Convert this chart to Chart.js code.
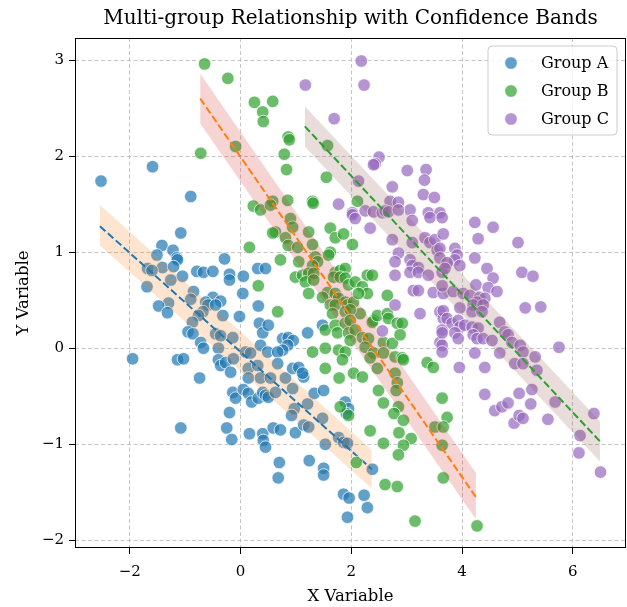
<!DOCTYPE html>
<html><head><meta charset="utf-8">
<script src="https://cdn.jsdelivr.net/npm/chart.js@4.4.1/dist/chart.umd.min.js"></script>
<style>html,body{margin:0;padding:0;background:#fff;}#wrap{width:627px;height:607px;position:relative;}</style>
</head><body><div id="wrap"><canvas id="c"></canvas></div>
<script>
const titleText = 'Multi-group Relationship with Confidence Bands';
const xLabel = 'X Variable';
const yLabel = 'Y Variable';
const groupNames = ['Group A', 'Group B', 'Group C'];

const groupAX = [-2.52,-1.59,-0.90,-1.08,-1.42,-1.22,-1.51,-1.15,-1.14,-1.41,-1.21,-1.68,-1.60,-0.29,0.31,0.45,-0.79,-0.67,-0.50,-0.20,-0.20,0.05,-1.05,-1.26,-1.69,-0.85,-0.90,0.04,-0.50,-0.63,-0.59,-0.36,-0.45,-1.30,-1.48,-1.32,0.32,-0.68,-0.76,-0.32,-0.02,-0.87,0.34,-0.95,-0.86,-0.45,-0.36,-0.14,0.40,-0.72,-0.67,-0.40,0.09,0.18,0.36,-1.95,-1.14,-1.03,-0.40,-0.36,-0.27,-0.13,0.14,0.31,-0.18,-0.74,0.14,0.36,-0.14,-0.09,0.05,0.14,0.20,0.32,-0.20,-1.08,-0.25,-0.16,0.16,0.40,0.41,0.45,0.54,0.81,1.14,0.40,0.45,0.50,0.63,0.94,1.33,1.50,0.97,0.92,1.21,1.89,1.95,1.91,1.48,0.59,0.72,0.99,1.14,1.23,1.53,1.77,1.86,1.93,0.70,0.68,1.24,1.50,1.50,2.38,1.86,1.96,2.23,2.29,1.93,0.50,0.76,0.86,0.95,0.85,0.76,1.21,1.48,0.49,0.67,0.67,0.94,1.05,1.12];
const groupAY = [1.74,1.89,1.58,1.20,1.07,1.02,0.97,0.94,0.92,0.84,0.85,0.83,0.81,0.93,0.83,0.83,0.80,0.79,0.80,0.77,0.71,0.75,0.75,0.71,0.64,0.59,0.51,0.57,0.53,0.48,0.45,0.49,0.45,0.47,0.44,0.37,0.44,0.38,0.34,0.34,0.33,0.27,0.26,0.17,0.15,0.15,0.13,0.11,0.16,0.06,0.00,0.00,-0.04,-0.05,0.03,-0.11,-0.12,-0.11,-0.12,-0.18,-0.15,-0.11,-0.21,-0.18,-0.25,-0.31,-0.31,-0.31,-0.46,-0.52,-0.43,-0.47,-0.56,-0.52,-0.67,-0.83,-0.83,-0.95,-0.89,-0.89,-0.96,-1.03,-0.31,-0.31,-0.30,-0.46,-0.49,-0.51,-0.46,-0.42,-0.47,-0.44,-0.63,-0.70,-0.58,-0.56,-0.63,-0.68,-0.73,-0.83,-0.85,-0.88,-0.80,-0.82,-1.00,-0.93,-0.98,-0.99,-1.19,-1.35,-1.17,-1.25,-1.32,-1.26,-1.52,-1.56,-1.53,-1.66,-1.76,0.24,0.10,0.11,0.08,0.03,-0.02,0.16,0.24,-0.04,-0.04,-0.16,-0.21,-0.20,-0.26];

const groupBX = [-0.65,-0.23,0.25,0.58,0.40,0.41,-0.09,-0.72,0.23,0.36,0.86,0.88,1.57,0.79,0.83,1.55,0.85,1.30,1.31,2.11,0.58,0.54,0.16,0.32,0.90,0.94,0.63,0.58,0.81,0.86,1.03,1.23,1.30,1.62,1.71,1.86,2.02,1.05,0.72,1.35,1.39,1.30,1.62,1.59,0.99,1.12,1.23,1.32,1.17,1.32,1.71,1.80,1.89,1.68,1.80,1.89,1.95,2.07,2.29,2.38,2.20,1.23,1.57,1.71,1.77,1.48,1.62,1.71,1.89,1.93,2.04,2.29,2.13,2.65,0.67,1.66,1.89,2.16,1.98,2.40,2.38,2.47,2.65,2.67,2.83,2.92,1.53,1.71,1.89,1.98,1.75,1.95,2.07,2.20,2.31,2.58,2.74,2.88,1.98,1.30,1.53,1.77,1.89,2.25,2.40,2.34,2.58,2.79,2.92,2.94,1.53,1.84,2.04,2.20,2.47,2.79,3.37,3.48,1.78,1.80,1.95,2.09,2.49,2.58,2.34,2.58,2.61,2.83,3.15,2.83,2.81,2.85,2.77,2.94,2.86,3.08,2.94,2.85,3.51,3.64,3.64,3.66,3.73,3.66,4.27];
const groupBY = [2.96,2.81,2.56,2.57,2.46,2.36,2.10,2.03,1.48,1.44,2.20,2.17,2.11,2.02,1.86,1.78,1.54,1.53,1.51,1.53,1.53,1.49,1.05,0.65,1.35,1.26,1.21,1.20,1.15,1.07,1.05,1.21,1.08,1.25,1.15,1.19,1.08,0.90,0.92,0.95,0.90,0.86,1.00,0.97,0.74,0.76,0.78,0.78,0.69,0.71,0.79,0.81,0.83,0.74,0.74,0.73,0.66,0.69,0.76,0.76,0.64,0.57,0.58,0.57,0.52,0.53,0.45,0.45,0.48,0.45,0.48,0.57,0.57,0.55,0.38,0.36,0.38,0.36,0.40,0.29,0.27,0.34,0.36,0.31,0.26,0.26,0.19,0.24,0.26,0.29,0.16,0.16,0.19,0.11,0.10,0.06,0.05,0.14,0.08,-0.04,0.00,-0.02,-0.04,0.01,-0.05,-0.10,-0.05,-0.09,-0.10,-0.12,-0.21,-0.12,-0.26,-0.30,-0.21,-0.26,-0.15,-0.20,-0.31,-0.61,-0.70,-1.19,-0.44,-0.57,-0.86,-0.99,-1.42,-1.44,-1.80,-0.36,-0.44,-0.61,-0.68,-0.75,-0.88,-0.94,-1.01,-1.11,-0.82,-0.52,-1.01,-1.35,-0.72,-0.82,-1.85];

const groupCX = [1.17,2.18,2.23,1.69,2.50,2.43,2.40,2.13,3.01,3.35,3.32,2.74,3.30,3.50,1.77,2.70,2.85,2.02,2.25,2.40,2.56,2.61,3.06,3.39,3.60,2.02,2.07,2.67,2.85,3.10,3.42,3.64,2.34,2.74,2.85,2.79,2.79,3.10,3.33,3.42,3.51,3.55,3.60,3.60,3.06,3.10,3.21,3.06,3.21,3.39,3.64,3.12,3.21,3.48,3.66,2.79,3.24,3.60,3.66,2.56,3.64,3.60,4.23,4.56,4.29,5.01,3.66,3.87,3.91,3.87,3.96,3.73,3.69,4.23,4.45,4.56,5.08,5.28,4.25,3.64,3.84,4.02,4.14,4.47,4.63,4.32,4.41,4.27,4.20,4.38,4.18,4.36,3.96,3.66,5.14,5.42,3.73,3.82,3.93,3.96,4.05,4.18,4.29,4.68,4.77,4.83,3.64,3.87,3.93,4.20,4.27,4.38,4.54,4.90,5.05,5.10,5.75,3.64,3.64,4.23,4.68,5.32,5.35,4.95,5.10,3.95,4.41,4.41,4.59,4.72,4.83,5.03,5.26,5.24,4.94,5.03,5.10,5.55,5.68,6.38,6.13,6.11,6.50];
const groupCY = [2.74,2.99,2.74,2.39,1.99,1.92,1.91,1.74,1.85,1.86,1.75,1.68,1.60,1.57,1.50,1.53,1.52,1.41,1.43,1.42,1.41,1.43,1.44,1.41,1.41,1.39,1.35,1.42,1.44,1.33,1.36,1.36,1.25,1.13,0.99,0.90,0.76,1.10,1.15,1.10,1.13,1.02,1.04,0.94,0.92,0.86,0.84,0.79,0.79,0.76,0.79,0.60,0.60,0.58,0.57,0.45,0.36,0.38,0.31,0.18,0.19,0.06,1.31,1.26,1.14,1.10,1.19,1.04,0.97,0.92,0.86,0.89,0.83,0.94,0.83,0.73,0.79,0.75,0.66,0.65,0.59,0.57,0.55,0.63,0.59,0.53,0.52,0.48,0.45,0.45,0.38,0.38,0.42,0.39,0.42,0.43,0.31,0.26,0.29,0.22,0.24,0.22,0.21,0.27,0.17,0.14,0.16,0.16,0.10,0.14,0.10,0.10,0.08,0.06,0.03,-0.04,0.01,0.03,-0.04,-0.05,-0.05,-0.09,-0.23,-0.16,-0.16,-0.20,-0.20,-0.48,-0.65,-0.61,-0.57,-0.47,-0.43,-0.58,-0.78,-0.70,-0.73,-0.74,-0.56,-0.68,-0.91,-1.09,-1.29];

// fitted lines (two end points each) and confidence bands
const fitAX = [-2.54, 2.37]; const fitAY = [1.27, -1.26];
const bandALow = [1.07, -1.46]; const bandAHigh = [1.49, -1.06];
const fitBX = [-0.73, 4.25]; const fitBY = [2.60, -1.55];
const bandBLow = [2.34, -1.78]; const bandBHigh = [2.86, -1.30];
const fitCX = [1.16, 6.49]; const fitCY = [2.31, -0.97];
const bandCLow = [2.10, -1.18]; const bandCHigh = [2.52, -0.76];

const xTicks = [-2, 0, 2, 4, 6];
const yTicks = [-2, -1, 0, 1, 2, 3];

const pointColors = ['rgba(31,119,180,0.7)', 'rgba(44,160,44,0.7)', 'rgba(148,103,189,0.7)'];
const lineColors = ['#1f77b4', '#ff7f0e', '#2ca02c'];
const bandColors = ['rgba(255,127,14,0.2)', 'rgba(214,39,40,0.2)', 'rgba(140,86,75,0.2)'];

const zip = (xs, ys) => xs.map((x, i) => ({x, y: ys[i]}));
const FONT = "'DejaVu Serif', serif";

const groups = [
  {x: groupAX, y: groupAY, fx: fitAX, fy: fitAY, lo: bandALow, hi: bandAHigh},
  {x: groupBX, y: groupBY, fx: fitBX, fy: fitBY, lo: bandBLow, hi: bandBHigh},
  {x: groupCX, y: groupCY, fx: fitCX, fy: fitCY, lo: bandCLow, hi: bandCHigh}
];

const datasets = [];
groups.forEach((g, i) => {
  const base = (3 - i) * 10;
  datasets.push({
    type: 'scatter', label: groupNames[i], data: zip(g.x, g.y),
    backgroundColor: pointColors[i], borderColor: 'rgba(255,255,255,0.75)', borderWidth: 1,
    pointRadius: 6.3, pointHoverRadius: 6.3, order: base + 4
  });
  datasets.push({
    type: 'line', label: '_bandHi' + i, data: zip(g.fx, g.hi),
    borderWidth: 0, pointRadius: 0, backgroundColor: bandColors[i], fill: '+1', order: base + 3, tension: 0
  });
  datasets.push({
    type: 'line', label: '_bandLo' + i, data: zip(g.fx, g.lo),
    borderWidth: 0, pointRadius: 0, fill: false, order: base + 2, tension: 0
  });
  datasets.push({
    type: 'line', label: '_fit' + i, data: zip(g.fx, g.fy),
    borderColor: lineColors[i], borderWidth: 2, borderDash: [7.4, 3.2], pointRadius: 0, fill: false, order: base + 1, tension: 0
  });
});

const framePlugin = {
  id: 'frame',
  afterDatasetsDraw(chart) {
    const {ctx, chartArea: a} = chart;
    ctx.save();
    ctx.strokeStyle = '#000'; ctx.lineWidth = 1;
    ctx.strokeRect(a.left + 0.5, a.top + 0.5, a.right - a.left - 1, a.bottom - a.top - 1);
    ctx.restore();
  }
};

const titlePlugin = {
  id: 'areaTitle',
  afterDraw(chart) {
    const {ctx, chartArea: a} = chart;
    ctx.save();
    ctx.font = "20px " + FONT; ctx.fillStyle = '#000';
    ctx.textAlign = 'center'; ctx.textBaseline = 'middle';
    ctx.fillText(titleText, (a.left + a.right) / 2, 19);
    ctx.restore();
  }
};

const legendPlugin = {
  id: 'customLegend',
  afterDraw(chart) {
    const {ctx, chartArea: a} = chart;
    const w = 129, h = 89, x = a.right - 9 - w, y = a.top + 8, r = 4;
    ctx.save();
    ctx.beginPath();
    ctx.moveTo(x + r, y); ctx.lineTo(x + w - r, y); ctx.quadraticCurveTo(x + w, y, x + w, y + r);
    ctx.lineTo(x + w, y + h - r); ctx.quadraticCurveTo(x + w, y + h, x + w - r, y + h);
    ctx.lineTo(x + r, y + h); ctx.quadraticCurveTo(x, y + h, x, y + h - r);
    ctx.lineTo(x, y + r); ctx.quadraticCurveTo(x, y, x + r, y); ctx.closePath();
    ctx.fillStyle = 'rgba(255,255,255,0.8)'; ctx.fill();
    ctx.strokeStyle = '#cccccc'; ctx.lineWidth = 1; ctx.stroke();
    ctx.font = "16px " + FONT; ctx.textBaseline = 'middle'; ctx.fillStyle = '#000';
    groupNames.forEach((name, i) => {
      const cy = y + 17 + i * 28;
      ctx.beginPath(); ctx.arc(x + 23, cy, 6.3, 0, Math.PI * 2);
      ctx.fillStyle = pointColors[i]; ctx.fill();
      ctx.strokeStyle = 'rgba(255,255,255,0.75)'; ctx.lineWidth = 1; ctx.stroke();
      ctx.fillStyle = '#000'; ctx.fillText(name, x + 53, cy + 1);
    });
    ctx.restore();
  }
};

const fmt = v => (v < 0 ? '\u2212' + Math.abs(v) : String(v));

new Chart(document.getElementById('c'), {
  type: 'scatter',
  data: {datasets},
  options: {
    responsive: true, maintainAspectRatio: false, animation: false,
    layout: {autoPadding: false, padding: {left: 0, right: 1, top: 38, bottom: 0}},
    plugins: {
      legend: {display: false}, tooltip: {enabled: false}, title: {display: false}
    },
    scales: {
      x: {
        type: 'linear', min: -2.99, max: 6.96,
        afterBuildTicks: s => { s.ticks = xTicks.map(v => ({value: v})); },
        afterFit: s => { s.height = 59; },
        ticks: {callback: v => fmt(v), color: '#000', font: {family: FONT, size: 15}, padding: 9, maxRotation: 0},
        grid: {color: 'rgba(176,176,176,0.9)', lineWidth: 0.8, drawTicks: true, tickLength: 6, tickColor: '#000', tickWidth: 1, tickBorderDash: []},
        border: {display: false, dash: [4, 2.5]},
        title: {display: true, text: xLabel, color: '#000', font: {family: FONT, size: 16.5}, padding: {top: 0, bottom: 0}}
      },
      y: {
        type: 'linear', min: -2.08, max: 3.23,
        afterBuildTicks: s => { s.ticks = yTicks.map(v => ({value: v})); },
        afterFit: s => { s.width = 75; },
        ticks: {callback: v => fmt(v), color: '#000', font: {family: FONT, size: 15}, padding: 5},
        grid: {color: 'rgba(176,176,176,0.9)', lineWidth: 0.8, drawTicks: true, tickLength: 6, tickColor: '#000', tickWidth: 1, tickBorderDash: []},
        border: {display: false, dash: [4, 2.5]},
        title: {display: true, text: yLabel, color: '#000', font: {family: FONT, size: 16.5}, padding: {top: 14, bottom: 14}}
      }
    }
  },
  plugins: [framePlugin, titlePlugin, legendPlugin]
});
</script></body></html>
